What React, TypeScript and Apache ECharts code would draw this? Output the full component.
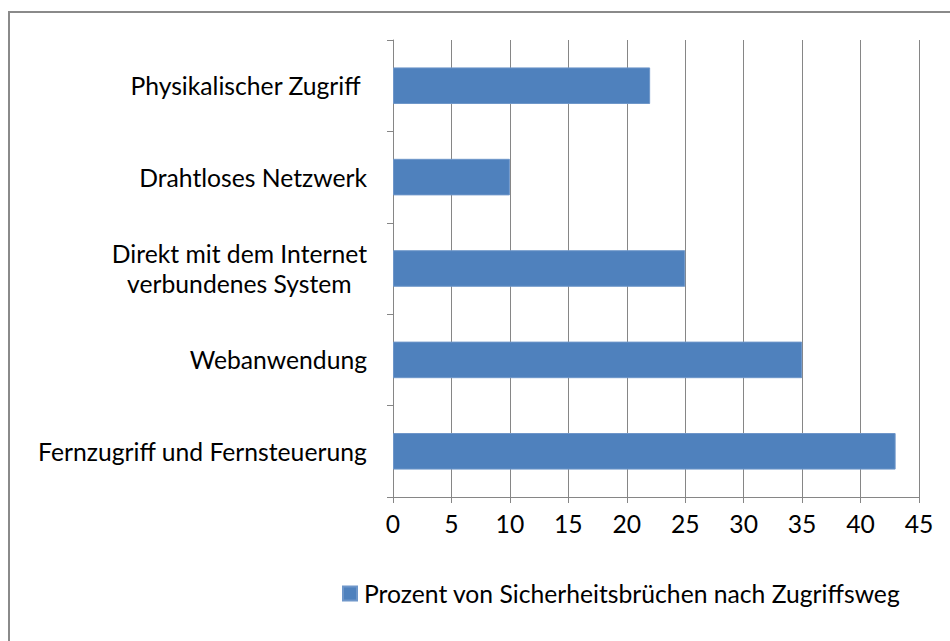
import React, { useEffect, useRef } from "react";
import * as echarts from "echarts";

const categories = [
  "Physikalischer Zugriff ",
  "Drahtloses Netzwerk",
  "Direkt mit dem Internet\nverbundenes System",
  "Webanwendung",
  "Fernzugriff und Fernsteuerung",
];
const values = [22, 10, 25, 35, 43];
const seriesName = "Prozent von Sicherheitsbrüchen nach Zugriffsweg";

const FONT = "Lato";
const FS = 24.7;
const GRAY = "#868686";

export default function App() {
  const ref = useRef<HTMLDivElement>(null);
  useEffect(() => {
    if (!ref.current) return;
    const chart = echarts.init(ref.current, null, { renderer: "svg" });
    chart.setOption({
      animation: false,
      backgroundColor: "#ffffff",
      textStyle: { fontFamily: FONT, color: "#000" },
      graphic: [
        {
          type: "rect",
          shape: { x: 9, y: 12, width: 1000, height: 700 },
          style: { fill: "none", stroke: "#8a8a8a", lineWidth: 2 },
          silent: true,
          z: -1,
        },
      ],
      grid: { left: 393, right: 31, top: 40, bottom: 144, containLabel: false },
      legend: {
        left: 342,
        top: 581,
        padding: 0,
        itemWidth: 14,
        itemHeight: 14,
        icon: "rect",
        textStyle: { fontFamily: FONT, fontSize: FS, color: "#000", padding: [0, 0, 0, 2] },
        data: [seriesName],
      },
      xAxis: {
        type: "value",
        min: 0,
        max: 45,
        interval: 5,
        axisLine: { show: true, lineStyle: { color: GRAY, width: 1 } },
        axisTick: { show: true, length: 6, lineStyle: { color: GRAY } },
        axisLabel: { fontFamily: FONT, fontSize: FS, color: "#000", margin: 14 },
        splitLine: { show: true, lineStyle: { color: GRAY, width: 1 } },
      },
      yAxis: {
        type: "category",
        inverse: true,
        data: categories,
        axisLine: { show: true, lineStyle: { color: GRAY, width: 1 } },
        axisTick: { show: true, length: 6, alignWithLabel: false, lineStyle: { color: GRAY } },
        axisLabel: {
          margin: 26,
          formatter: (v: string) =>
            v
              .split("\n")
              .map((l) => `{c|${l}}`)
              .join("\n"),
          rich: {
            c: { fontFamily: FONT, fontSize: FS, color: "#000", align: "center", lineHeight: 30 },
          },
        },
        splitLine: { show: false },
      },
      series: [
        {
          name: seriesName,
          type: "bar",
          data: values,
          barCategoryGap: "60%",
          itemStyle: { color: "#4F81BD", borderColor: "#6E96C9", borderWidth: 1 },
        },
      ],
    });
    return () => chart.dispose();
  }, []);
  return (
    <div
      ref={ref}
      style={{ position: "fixed", left: 0, top: 0, width: 950, height: 641 }}
    />
  );
}
